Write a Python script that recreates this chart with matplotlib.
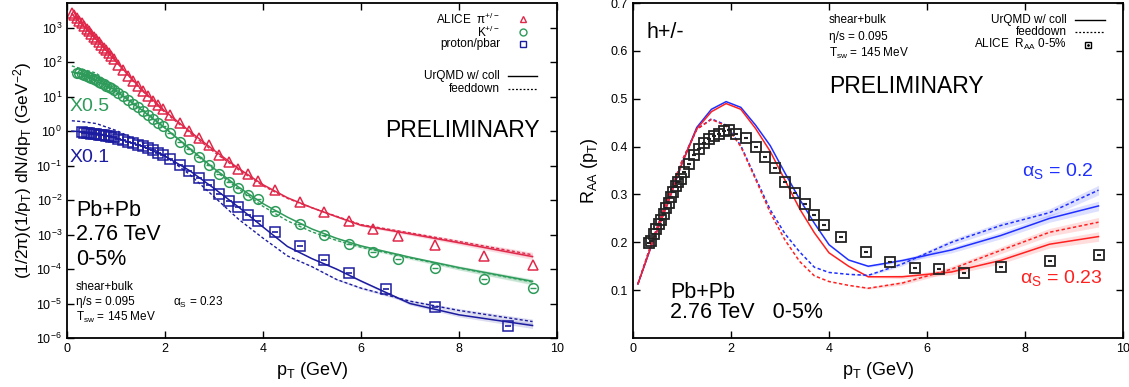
import matplotlib
matplotlib.use("Agg")
import matplotlib.pyplot as plt
import numpy as np

plt.rcParams["font.family"] = ["Liberation Sans", "DejaVu Sans"]
plt.rcParams["mathtext.default"] = "regular"

# ---- left panel: identified spectra (ALICE, 0-5%) ----
pt_pi = [0.1, 0.15, 0.2, 0.25, 0.3, 0.35, 0.4, 0.45, 0.5, 0.55, 0.6, 0.65, 0.7, 0.75, 0.8, 0.85, 0.9, 0.95,
         1.05, 1.15, 1.25, 1.35, 1.45, 1.55, 1.65, 1.75, 1.85, 1.95,
         2.1, 2.3, 2.5, 2.7, 2.9, 3.1, 3.3, 3.5, 3.7, 3.9,
         4.25, 4.75, 5.25, 5.75, 6.25, 6.75, 7.5, 8.5, 9.5]
pion = [2.7e3, 2.3e3, 1.9e3, 1.6e3, 1.35e3, 1.12e3, 9.3e2, 7.9e2, 6.6e2, 5.5e2, 4.6e2, 3.8e2, 3.2e2, 2.6e2,
        2.2e2, 1.8e2, 1.5e2, 1.26e2,
        85, 59, 41, 28, 20, 14.5, 10.5, 7.6, 5.8, 4.4,
        2.9, 1.7, 1.02, 0.63, 0.39, 0.21, 0.13, 0.081, 0.056, 0.037,
        2.0e-2, 8.9e-3, 4.6e-3, 2.5e-3, 1.48e-3, 9.3e-4, 5.1e-4, 2.45e-4, 1.35e-4]

pt_k = [0.2, 0.25, 0.3, 0.35, 0.4, 0.45, 0.5, 0.55, 0.6, 0.65, 0.7, 0.75, 0.8, 0.85, 0.9, 0.95,
        1.05, 1.15, 1.25, 1.35, 1.45, 1.55, 1.65, 1.75, 1.85, 1.95,
        2.1, 2.3, 2.5, 2.7, 2.9, 3.1, 3.3, 3.5, 3.7, 3.9,
        4.25, 4.75, 5.25, 5.75, 6.25, 6.75, 7.5, 8.5, 9.5]
kaon = [50, 48, 46, 44, 41, 38, 35, 33, 30, 27.5, 25, 23, 21, 19, 17.4, 15.8,
        12.9, 10.2, 8.1, 6.3, 4.9, 3.8, 2.95, 2.3, 1.78, 1.38,
        0.89, 0.50, 0.30, 0.174, 0.105, 0.056, 0.034, 0.022, 0.0141, 0.0105,
        4.7e-3, 2.0e-3, 9.8e-4, 5.4e-4, 3.2e-4, 2.0e-4, 1.1e-4, 5.2e-5, 2.9e-5]

pt_p = [0.3, 0.35, 0.4, 0.45, 0.5, 0.55, 0.6, 0.65, 0.7, 0.75, 0.8, 0.85, 0.9, 0.95,
        1.05, 1.15, 1.25, 1.35, 1.45, 1.55, 1.65, 1.75, 1.85, 1.95,
        2.1, 2.3, 2.5, 2.7, 2.9, 3.1, 3.3, 3.5, 3.7, 3.9,
        4.25, 4.75, 5.25, 5.75, 6.5, 7.5, 9.0]
proton = [0.93, 0.91, 0.89, 0.87, 0.85, 0.83, 0.81, 0.79, 0.78, 0.76, 0.74, 0.72, 0.69, 0.66,
          0.60, 0.55, 0.50, 0.46, 0.41, 0.36, 0.32, 0.28, 0.24, 0.20,
          0.158, 0.107, 0.069, 0.043, 0.027, 0.015, 9.5e-3, 6.2e-3, 3.8e-3, 2.5e-3,
          1.2e-3, 4.8e-4, 1.86e-4, 7.9e-5, 2.7e-5, 8.1e-6, 2.3e-6]

# model curves (UrQMD w/ coll = solid, feeddown = dashed)
pt_model = [0.1, 0.3, 0.6, 1.0, 1.5, 2.0, 2.5, 3.0, 3.5, 4.0, 4.5, 5.0, 5.5, 6.0, 7.0, 8.0, 9.5]
pion_coll = [2.5e3, 1.26e3, 4.5e2, 1.05e2, 17.4, 3.8, 1.0, 0.28, 0.083, 0.028, 0.0117, 6.0e-3, 3.3e-3,
             1.86e-3, 1.05e-3, 5.8e-4, 2.3e-4]
pion_fd = [2.6e3, 1.3e3, 4.6e2, 1.05e2, 16.6, 3.5, 0.91, 0.25, 0.076, 0.026, 0.0112, 6.0e-3, 3.4e-3,
           1.95e-3, 1.12e-3, 6.3e-4, 2.6e-4]
kaon_coll = [52, 48, 37, 14.5, 4.4, 1.23, 0.32, 0.083, 0.024, 7.9e-3, 3.2e-3, 1.45e-3, 7.8e-4,
             4.7e-4, 2.2e-4, 1.1e-4, 4.4e-5]
kaon_fd = [78, 64, 48, 16.6, 4.8, 1.26, 0.30, 0.076, 0.021, 6.6e-3, 2.5e-3, 1.2e-3, 6.8e-4,
           4.3e-4, 2.1e-4, 1.07e-4, 4.2e-5]
proton_coll = [1.0, 0.97, 0.89, 0.63, 0.38, 0.19, 0.072, 0.022, 6.3e-3, 1.66e-3, 4.5e-4, 2.0e-4, 1.0e-4,
               4.5e-5, 1.0e-5, 4.7e-6, 2.3e-6]
proton_fd = [2.0, 1.9, 1.66, 1.05, 0.5, 0.19, 0.056, 0.0126, 2.8e-3, 7.9e-4, 2.4e-4, 1.17e-4, 5.0e-5,
             2.8e-5, 1.17e-5, 6.3e-6, 3.0e-6]
band_rel = [0, 0, 0, 0, 0, 0, 0, 0, 0, 0, 0, 0.03, 0.05, 0.07, 0.1, 0.13, 0.18]

# ---- right panel: R_AA of charged hadrons ----
pt_raa = [0.325, 0.375, 0.425, 0.475, 0.525, 0.575, 0.625, 0.675, 0.725, 0.775, 0.825, 0.875, 0.925, 0.975,
          1.05, 1.15, 1.25, 1.35, 1.45, 1.55, 1.65, 1.75, 1.85, 1.95,
          2.1, 2.3, 2.5, 2.7, 2.9, 3.1, 3.3, 3.5, 3.7, 3.9,
          4.25, 4.75, 5.25, 5.75, 6.25, 6.75, 7.5, 8.5, 9.5]
raa = [0.198, 0.203, 0.218, 0.228, 0.238, 0.247, 0.260, 0.272, 0.283, 0.295, 0.305, 0.318, 0.325, 0.333,
       0.347, 0.364, 0.382, 0.395, 0.407, 0.416, 0.422, 0.427, 0.432, 0.435,
       0.427, 0.418, 0.399, 0.378, 0.355, 0.327, 0.303, 0.280, 0.257, 0.236,
       0.211, 0.180, 0.159, 0.146, 0.144, 0.136, 0.148, 0.161, 0.173]

pt_raa_model = [0.1, 0.4, 0.7, 1.0, 1.3, 1.6, 1.9, 2.2, 2.5, 2.8, 3.1, 3.4, 3.7, 4.0, 4.4, 4.8,
                5.5, 6.5, 7.5, 8.5, 9.5]
raa_02 = [0.113, 0.20, 0.279, 0.365, 0.44, 0.478, 0.494, 0.482, 0.445, 0.402, 0.345, 0.29, 0.24, 0.195,
          0.163, 0.15, 0.162, 0.184, 0.214, 0.25, 0.276]
raa_023 = [0.113, 0.20, 0.279, 0.365, 0.437, 0.473, 0.49, 0.478, 0.438, 0.39, 0.33, 0.27, 0.22, 0.178,
           0.15, 0.128, 0.128, 0.138, 0.162, 0.196, 0.212]
raa_02_fd = [0.113, 0.205, 0.29, 0.37, 0.436, 0.458, 0.445, 0.402, 0.335, 0.268, 0.218, 0.18, 0.148, 0.137,
             0.133, 0.131, 0.155, 0.20, 0.235, 0.262, 0.309]
raa_023_fd = [0.113, 0.205, 0.29, 0.37, 0.436, 0.457, 0.443, 0.40, 0.332, 0.262, 0.205, 0.16, 0.13, 0.118,
              0.11, 0.104, 0.115, 0.144, 0.183, 0.221, 0.242]
raa_band = [0, 0, 0, 0, 0, 0, 0, 0, 0, 0, 0, 0, 0, 0, 0, 0.002, 0.004, 0.006, 0.007, 0.008, 0.01]

RED, GREEN, NAVY = "#e0284a", "#2e9b5a", "#1c1ca0"
BLUE_R, RED_R = "#1f2fff", "#ff2020"
DASH = (0, (2.2, 1.6))

fig = plt.figure(figsize=(11.29, 3.87), dpi=100)
axL = fig.add_axes([0.0593, 0.1266, 0.4341, 0.8655])
axR = fig.add_axes([0.5607, 0.1266, 0.434, 0.8655])

for ax in (axL, axR):
    ax.tick_params(direction="in", which="both", top=True, right=True, labelsize=9, length=5, width=1)
    for s in ax.spines.values():
        s.set_linewidth(1.3)

# left panel
pm = np.array(pt_model)
for y_coll, y_fd, c in [(pion_coll, pion_fd, RED), (kaon_coll, kaon_fd, GREEN), (proton_coll, proton_fd, NAVY)]:
    yc, yf, rel = np.array(y_coll), np.array(y_fd), np.array(band_rel)
    axL.fill_between(pm, yc * (1 - rel), yc * (1 + rel), color=c, alpha=0.15, lw=0)
    axL.fill_between(pm, yf * (1 - rel), yf * (1 + rel), color=c, alpha=0.15, lw=0)
    axL.plot(pm, yc, color=c, lw=1.1)
    axL.plot(pm, yf, color=c, lw=1.0, ls=DASH)

axL.plot(pt_pi, pion, ls="none", marker="^", ms=6.5, mfc="none", mec=RED, mew=1.1)
axL.plot(pt_k, kaon, ls="none", marker="o", ms=7, mfc="none", mec=GREEN, mew=1.1)
axL.plot(pt_k, kaon, ls="none", marker="_", ms=5, mec=GREEN, mew=1.0)
axL.plot(pt_p, proton, ls="none", marker="s", ms=6.5, mfc="none", mec=NAVY, mew=1.1)
axL.plot(pt_p, proton, ls="none", marker="_", ms=4, mec=NAVY, mew=1.2)

axL.set_yscale("log")
axL.set_xlim(0, 10)
axL.set_ylim(1e-6, 5.2e3)
axL.set_xticks([0, 2, 4, 6, 8, 10])
axL.yaxis.set_major_locator(matplotlib.ticker.LogLocator(base=10, numticks=12))
axL.yaxis.set_minor_locator(matplotlib.ticker.NullLocator())
axL.set_xlabel("$p_T$ (GeV)", fontsize=13, labelpad=4)
axL.set_ylabel("(1/2π)(1/$p_T$) dN/d$p_T$ (GeV$^{-2}$)", fontsize=12.5, labelpad=2)

tL = axL.transAxes
axL.text(0.006, 0.69, "X0.5", color=GREEN, fontsize=14, va="center", transform=tL)
axL.text(0.006, 0.54, "X0.1", color=NAVY, fontsize=14, va="center", transform=tL)
axL.text(0.965, 0.62, "PRELIMINARY", fontsize=16.5, ha="right", va="center", transform=tL)
axL.text(0.018, 0.38, "Pb+Pb", fontsize=15.5, va="center", transform=tL)
axL.text(0.018, 0.31, "2.76 TeV", fontsize=15.5, va="center", transform=tL)
axL.text(0.018, 0.235, "0-5%", fontsize=15.5, va="center", transform=tL)
axL.text(0.018, 0.152, "shear+bulk", fontsize=8.5, va="center", transform=tL)
axL.text(0.018, 0.107, "η/s = 0.095", fontsize=8.5, va="center", transform=tL)
axL.text(0.018, 0.06, "$T_{sw}$ = 145 MeV", fontsize=8.5, va="center", transform=tL)
axL.text(0.216, 0.107, "$α_S$ = 0.23", fontsize=8.5, va="center", transform=tL)

# legend left
axL.text(0.884, 0.952, "ALICE  $π^{+/-}$", fontsize=8.5, ha="right", va="center", transform=tL)
axL.text(0.884, 0.913, "$K^{+/-}$", fontsize=8.5, ha="right", va="center", transform=tL)
axL.text(0.884, 0.878, "proton/pbar", fontsize=8.5, ha="right", va="center", transform=tL)
axL.plot([0.931], [0.952], marker="^", ms=5, mfc="none", mec=RED, mew=1, transform=tL)
axL.plot([0.931], [0.913], marker="o", ms=5, mfc="none", mec=GREEN, mew=1, transform=tL)
axL.plot([0.931], [0.878], marker="s", ms=5, mfc="none", mec=NAVY, mew=1, transform=tL)
axL.text(0.884, 0.782, "UrQMD w/ coll", fontsize=8.5, ha="right", va="center", transform=tL)
axL.text(0.884, 0.743, "feeddown", fontsize=8.5, ha="right", va="center", transform=tL)
axL.plot([0.9, 0.96], [0.782, 0.782], color="black", lw=1, transform=tL)
axL.plot([0.9, 0.96], [0.743, 0.743], color="black", lw=0.9, ls=(0, (1.5, 1.5)), transform=tL)

# right panel
pr = np.array(pt_raa_model)
bnd = np.array(raa_band)
for y, c, ls in [(raa_02, BLUE_R, "-"), (raa_023, RED_R, "-"), (raa_02_fd, BLUE_R, DASH), (raa_023_fd, RED_R, DASH)]:
    y = np.array(y)
    axR.fill_between(pr, y - bnd, y + bnd, color=c, alpha=0.15, lw=0)
    axR.plot(pr, y, color=c, lw=1.1, ls=ls)

axR.plot(pt_raa, raa, ls="none", marker="s", ms=7, mfc="none", mec="#222222", mew=1.3)
axR.plot(pt_raa, raa, ls="none", marker="_", ms=3.5, mec="#222222", mew=1.5)

axR.set_xlim(0, 10)
axR.set_ylim(0, 0.7)
axR.set_xticks([0, 2, 4, 6, 8, 10])
axR.set_yticks([0.1, 0.2, 0.3, 0.4, 0.5, 0.6, 0.7])
axR.set_xlabel("$p_T$ (GeV)", fontsize=13, labelpad=4)
axR.set_ylabel("$R_{AA}$ ($p_T$)", fontsize=13, labelpad=8)

tR = axR.transAxes
axR.text(0.027, 0.913, "h+/-", fontsize=15.5, va="center", transform=tR)
axR.text(0.4, 0.95, "shear+bulk", fontsize=8.5, va="center", transform=tR)
axR.text(0.4, 0.9, "η/s = 0.095", fontsize=8.5, va="center", transform=tR)
axR.text(0.4, 0.85, "$T_{sw}$ = 145 MeV", fontsize=8.5, va="center", transform=tR)
axR.text(0.4, 0.75, "PRELIMINARY", fontsize=16.5, va="center", transform=tR)
axR.text(0.886, 0.95, "UrQMD w/ coll", fontsize=8.5, ha="right", va="center", transform=tR)
axR.text(0.886, 0.913, "feeddown", fontsize=8.5, ha="right", va="center", transform=tR)
axR.text(0.886, 0.876, "ALICE  $R_{AA}$ 0-5%", fontsize=8.5, ha="right", va="center", transform=tR)
axR.plot([0.902, 0.963], [0.95, 0.95], color="black", lw=1, transform=tR)
axR.plot([0.902, 0.963], [0.913, 0.913], color="black", lw=0.9, ls=(0, (1.5, 1.5)), transform=tR)
axR.plot([0.929], [0.876], marker="s", ms=5, mfc="none", mec="black", mew=1, transform=tR)
axR.plot([0.929], [0.876], marker=".", ms=2, color="black", transform=tR)
axR.text(0.94, 0.5, "$α_S$ = 0.2", color=BLUE_R, fontsize=14, ha="right", va="center", transform=tR)
axR.text(0.957, 0.18, "$α_S$ = 0.23", color=RED_R, fontsize=14, ha="right", va="center", transform=tR)
axR.text(0.075, 0.137, "Pb+Pb", fontsize=15.5, va="center", transform=tR)
axR.text(0.075, 0.075, "2.76 TeV   0-5%", fontsize=15.5, va="center", transform=tR)

fig.savefig("out.png", dpi=100)
